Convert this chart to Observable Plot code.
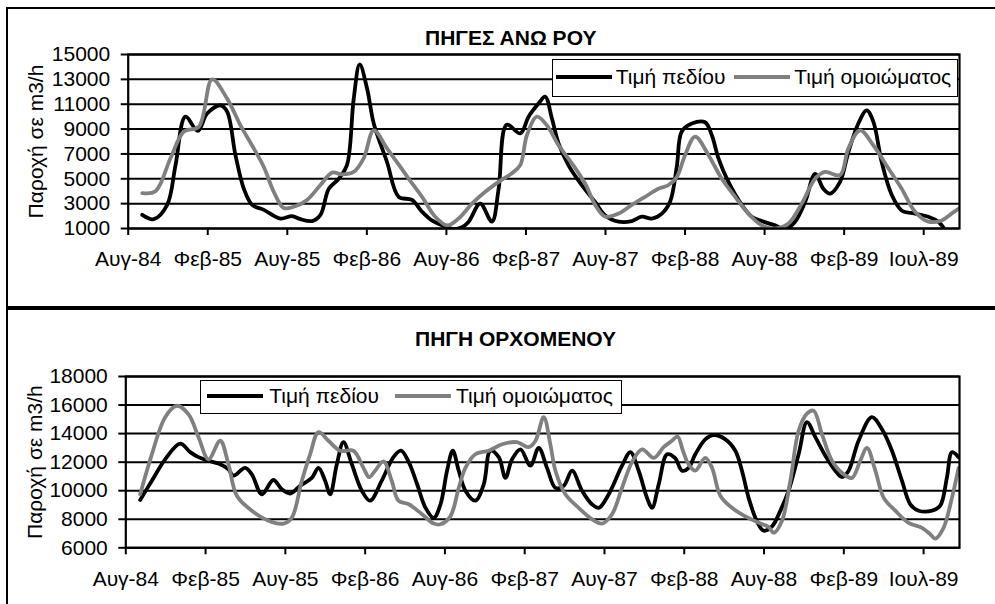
<!DOCTYPE html>
<html><head><meta charset="utf-8">
<script src="https://cdn.jsdelivr.net/npm/d3@7"></script>
<script src="https://cdn.jsdelivr.net/npm/@observablehq/plot@0.6"></script>
<style>
html,body{margin:0;padding:0;background:#fff;}
#page{position:relative;width:995px;height:604px;overflow:hidden;font-family:"Liberation Sans",Arial,sans-serif;color:#000;background:#fff;}
.chart{position:absolute;left:0;}
.title{position:absolute;font-weight:bold;font-size:21px;line-height:21px;white-space:nowrap;}
.legend{position:absolute;background:#fff;border:1px solid #000;box-sizing:border-box;}
.legend .sw{position:absolute;height:4px;width:56px;}
.legend .lt{position:absolute;font-size:21px;line-height:21px;white-space:nowrap;}
.rule{position:absolute;background:#000;z-index:5;}
</style></head><body><div id="page"></div>
<script>
// ---- data (x = months after Aug-84) ----
const xTickMonths = [0, 6, 12, 18, 24, 30, 36, 42, 48, 54, 60];
const xTickLabels = ["Αυγ-84", "Φεβ-85", "Αυγ-85", "Φεβ-86", "Αυγ-86", "Φεβ-87", "Αυγ-87", "Φεβ-88", "Αυγ-88", "Φεβ-89", "Ιουλ-89"];
const seriesNames = ["Τιμή πεδίου", "Τιμή ομοιώματος"];
const yLabel = "Παροχή σε m3/h";
const topTitle = "ΠΗΓΕΣ ΑΝΩ ΡΟΥ";
const bottomTitle = "ΠΗΓΗ ΟΡΧΟΜΕΝΟΥ";
const topTicks = [1000, 3000, 5000, 7000, 9000, 11000, 13000, 15000];
const bottomTicks = [6000, 8000, 10000, 12000, 14000, 16000, 18000];

const topFieldMonths = [1.06,1.93,2.94,3.57,4.32,5.25,5.95,6.96,7.46,8.09,8.72,9.35,10.23,11.48,12.36,12.99,13.87,14.5,15.13,15.88,16.5,17.01,17.46,18.02,18.52,19.52,20.4,21.4,22.16,22.9,23.92,24.55,25.17,25.68,26.55,27.43,27.94,28.55,29.57,30.2,30.95,31.45,31.96,32.46,33.2,34.2,35.2,35.98,36.98,37.98,38.73,39.5,40.25,40.87,41.38,41.75,42.51,43.51,44.02,44.52,45.27,46.28,47.03,47.79,48.79,49.55,50.3,51.06,51.81,52.43,52.93,53.69,54.32,55.07,55.7,56.2,56.83,57.59,58.34,59.35,60.35,61.1,61.61];
const topFieldValues = [2100,1750,2900,6100,10000,8850,10250,10900,10400,6900,4200,2900,2500,1800,2000,1750,1600,2100,4200,5000,6100,11450,14200,12250,9450,6350,3550,3300,2350,1650,1150,950,1100,1550,3000,1550,4200,9350,8650,10000,11050,11600,9850,7850,6100,4500,3150,2050,1550,1600,1950,1800,2200,3150,6000,8800,9450,9550,8500,6650,4750,2900,1950,1600,1250,950,1550,3150,5400,4200,3800,4750,7150,9450,10500,9600,6350,3700,2450,2200,1950,1550,900];

const topModelMonths = [1.06,2.06,3.19,4.2,5.33,6.33,7.46,8.47,9.47,10.23,10.98,11.73,12.49,13.49,14.5,15.38,16.13,17.0,17.76,18.52,19.52,20.53,21.16,22.16,23.16,24.05,24.92,25.93,26.93,27.94,28.94,29.57,30.07,30.83,31.58,32.46,33.46,34.47,35.22,35.98,36.98,37.99,38.99,39.99,40.75,41.38,42.0,42.76,43.77,44.77,45.78,46.78,47.79,48.79,49.8,50.8,51.81,52.56,53.69,54.32,55.2,56.2,57.33,58.34,59.35,60.35,61.35,62.1,62.65];
const topModelValues = [3850,4000,6650,8800,9200,13000,11450,9300,7450,5950,3950,2650,2750,3300,4500,5500,5350,5550,6650,8900,7450,5950,5000,3550,1950,1250,1800,3000,3950,4750,5450,6100,8500,10000,9300,7700,6250,4600,2900,1950,2200,2900,3550,4200,4500,5150,6900,8400,6900,5000,3550,2200,1250,1000,1400,3000,5000,5550,5300,7450,8900,7700,5850,4200,2350,1550,1650,2200,2600];

const bottomFieldMonths = [1.08,1.96,2.96,4.09,4.84,5.47,6.22,6.97,7.72,8.1,8.97,9.48,10.23,11.1,11.73,12.36,13.11,13.99,14.49,14.99,15.37,15.87,16.37,17.0,17.75,18.37,19.25,20.13,20.7,21.28,21.91,22.54,23.16,23.67,24.16,24.59,25.04,25.54,26.29,26.92,27.42,28.05,28.55,29.05,29.68,30.43,31.05,31.68,32.31,32.94,33.56,34.31,35.06,35.57,36.32,37.32,37.95,38.57,39.2,39.58,40.08,40.71,41.3,41.83,42.33,42.83,43.58,44.21,45.09,45.84,46.34,46.84,47.47,47.97,48.6,49.23,49.85,50.6,51.23,51.86,52.61,53.36,53.86,54.36,55.11,56.11,56.87,57.62,58.37,59.0,59.63,60.63,61.25,61.75,62.13,62.63];
const bottomFieldValues = [9350,10700,12200,13300,12700,12350,12100,11900,11500,11050,11600,11150,9750,10750,10100,9800,10350,10900,11600,10700,9750,11850,13400,11850,10000,9300,10700,12350,12800,12000,10450,8800,8100,9050,11400,12800,11400,10000,9300,10450,12800,12350,10900,12200,12900,11750,13000,11600,10200,10350,11400,10000,9050,8800,9750,11750,12700,11400,9500,8800,10450,12550,12300,11400,11600,12550,13600,13900,13600,12800,11400,9500,7850,7200,7500,8600,10000,12550,14800,13750,12450,11400,10950,11400,13500,15150,14300,12800,10700,9050,8600,8600,8950,10900,12700,12350];

const bottomModelMonths = [1.08,1.96,2.96,3.84,4.72,5.47,6.22,7.1,7.72,8.35,9.48,10.73,11.86,12.48,13.24,13.86,14.49,15.24,16.12,17.12,17.87,18.3,18.75,19.38,20.0,20.5,21.28,22.28,23.16,23.67,24.41,25.04,25.54,26.29,27.29,28.3,29.42,30.3,30.81,31.43,31.93,32.31,33.06,34.06,35.07,35.82,36.57,37.32,38.07,38.83,39.7,40.45,41.08,41.5,41.9,42.33,42.83,43.58,44.09,44.71,45.59,46.59,47.6,48.35,48.73,49.35,49.98,50.6,51.23,51.73,52.36,53.11,53.99,54.61,55.24,55.74,56.37,57.0,57.87,58.87,59.88,60.5,60.88,61.5,62.13,62.63];
const bottomModelValues = [9750,12550,15150,15950,15350,13750,12200,13500,11850,9650,8600,7900,7700,8100,10700,12550,14100,13500,12800,12800,11600,10950,11400,12050,10700,9300,9050,8350,7700,7650,8200,10200,11600,12550,12800,13250,13400,13050,13500,15150,13250,11400,9750,8800,8000,7700,8350,10200,12000,12900,12300,13050,13500,13800,12800,11850,11400,12300,11600,9650,8800,8200,7750,7450,7050,7900,10700,14200,15400,15600,13950,12100,11150,10900,12100,13000,11400,9500,8600,7750,7400,6950,6650,7400,9500,11600];

const xMax = 62.7;
const FONT = '"Liberation Sans", Arial, sans-serif';
const BLACK = "#000000", GRAY = "#808080";

function zip(ms, vs) { return ms.map((m, i) => ({m, v: vs[i]})); }

function panel(o) {
  const field = zip(o.fieldM, o.fieldV);
  const model = zip(o.modelM, o.modelV);
  return Plot.plot({
    width: 995, height: o.h,
    marginLeft: o.ml, marginRight: 36, marginTop: o.mt, marginBottom: o.mb,
    style: {fontFamily: FONT, fontSize: "21px", color: "#000", background: "transparent", overflow: "visible"},
    x: {domain: [0, xMax]},
    y: {domain: o.yDomain},
    marks: [
      Plot.gridY(o.yTicks, {stroke: BLACK, strokeOpacity: 1, strokeWidth: 2}),
      Plot.line(field, {x: "m", y: "v", curve: "catmull-rom", stroke: BLACK, strokeWidth: 3.8, clip: true}),
      Plot.line(model, {x: "m", y: "v", curve: "catmull-rom", stroke: GRAY, strokeWidth: 3.8, clip: true}),
      Plot.frame({stroke: BLACK, strokeWidth: 2.2}),
      Plot.axisY(o.yTicks, {tickSize: 7, tickPadding: 11, tickFormat: d => String(d), fontSize: 21, strokeWidth: 2, label: null}),
      Plot.axisX(xTickMonths, {tickSize: 7, tickPadding: 16, tickFormat: d => xTickLabels[xTickMonths.indexOf(d)], fontSize: 21, strokeWidth: 2, label: null}),
      Plot.text([yLabel], {text: d => d, frameAnchor: "left", textAnchor: "middle", lineAnchor: "middle", dx: o.labelDx, rotate: -90, fontSize: 21})
    ]
  });
}

const page = document.getElementById("page");

function addChart(svg, top) {
  svg.classList.add("chart");
  svg.style.position = "absolute";
  svg.style.top = top + "px";
  svg.style.left = "0px";
  page.appendChild(svg);
}

addChart(panel({fieldM: topFieldMonths, fieldV: topFieldValues, modelM: topModelMonths, modelV: topModelValues,
  yDomain: [1000, 15000], yTicks: topTicks, h: 300, ml: 127.7, mt: 54, mb: 72, labelDx: -92.2}), 0);
addChart(panel({fieldM: bottomFieldMonths, fieldV: bottomFieldValues, modelM: bottomModelMonths, modelV: bottomModelValues,
  yDomain: [6000, 18000], yTicks: bottomTicks, h: 304, ml: 125.3, mt: 76, mb: 56.7, labelDx: -90.3}), 300);

function div(cls, styles, text) {
  const d = document.createElement("div");
  d.className = cls;
  Object.assign(d.style, styles);
  if (text != null) d.textContent = text;
  return d;
}

page.appendChild(div("title", {left: "425px", top: "26.7px"}, topTitle));
page.appendChild(div("title", {left: "415px", top: "328px"}, bottomTitle));

function legend(box, items) {
  const L = div("legend", {left: box[0] + "px", top: box[1] + "px", width: box[2] + "px", height: box[3] + "px"});
  items.forEach((it, i) => {
    L.appendChild(div("sw", {left: it.sw + "px", top: it.swTop + "px", background: i === 0 ? BLACK : GRAY}));
    L.appendChild(div("lt", {left: it.tx + "px", top: it.txTop + "px"}, seriesNames[i]));
  });
  page.appendChild(L);
}
legend([552, 59, 406, 38], [{sw: 3, swTop: 14.7, tx: 62.7, txTop: 6.4}, {sw: 181.3, swTop: 14.7, tx: 241.3, txTop: 6.4}]);
legend([200, 380, 422, 34.3], [{sw: 6.3, swTop: 12.7, tx: 68.3, txTop: 4.4}, {sw: 194, swTop: 12.7, tx: 255, txTop: 4.4}]);

// panel borders
page.appendChild(div("rule", {left: "6px", top: "7px", width: "2px", height: "597px"}));
page.appendChild(div("rule", {left: "6px", top: "7px", width: "989px", height: "2px"}));
page.appendChild(div("rule", {left: "6px", top: "305.7px", width: "989px", height: "4px"}));
</script></body></html>
